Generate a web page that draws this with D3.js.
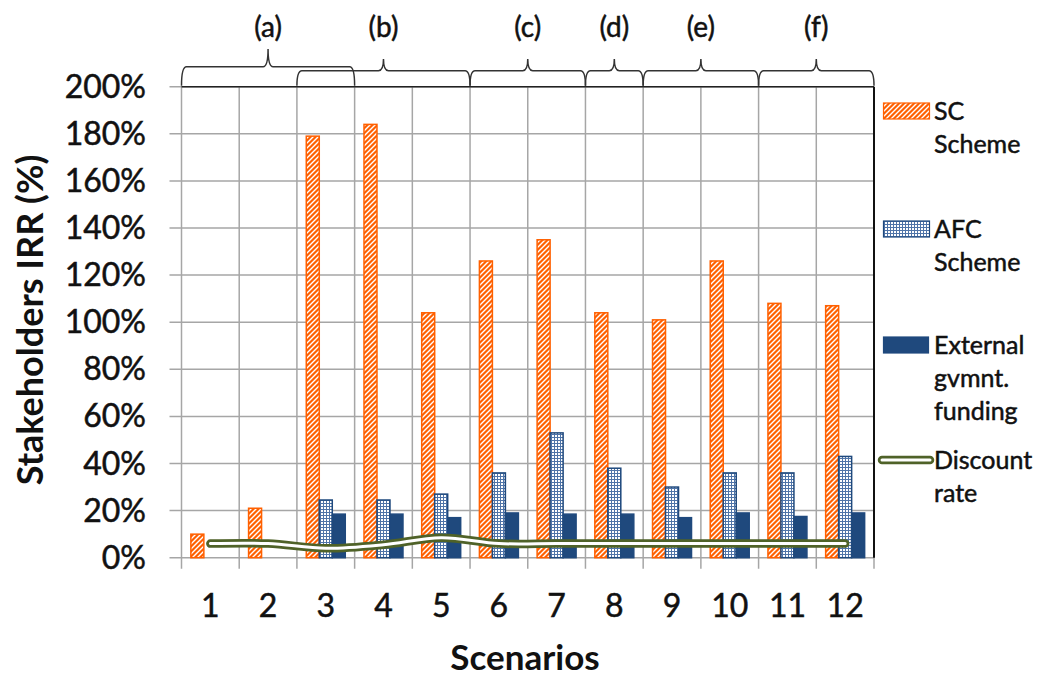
<!DOCTYPE html>
<html>
<head>
<meta charset="utf-8">
<script src="https://cdn.jsdelivr.net/npm/d3@7"></script>
<style>
  body { margin: 0; background: #fff; }
  svg { display: block; font-family: Lato, "Open Sans", sans-serif; }
  .lbl { fill: #111; stroke: #111; stroke-width: 0.5px; }
</style>
</head>
<body>
<svg id="chart" width="1042" height="679"></svg>
<script>
// Scenario data (IRR as fractions)
const scenarios = ['1', '2', '3', '4', '5', '6', '7', '8', '9', '10', '11', '12'];
const scScheme = [0.10, 0.21, 1.79, 1.84, 1.04, 1.26, 1.35, 1.04, 1.01, 1.26, 1.08, 1.07];
const afcScheme = [0, 0, 0.245, 0.245, 0.27, 0.36, 0.53, 0.38, 0.30, 0.36, 0.36, 0.43];
const extFunding = [0, 0, 0.185, 0.185, 0.17, 0.19, 0.185, 0.185, 0.17, 0.19, 0.175, 0.19];
const discountRate = [0.06, 0.06, 0.04, 0.055, 0.085, 0.06, 0.06, 0.06, 0.06, 0.06, 0.06, 0.06];
const yTicks = [0, 0.2, 0.4, 0.6, 0.8, 1.0, 1.2, 1.4, 1.6, 1.8, 2.0];

// Top brace groups (by scenario)
const braceLabels = ['(a)', '(b)', '(c)', '(d)', '(e)', '(f)'];
const braceStart = ['1', '3', '6', '8', '9', '11'];
const braceEnd = ['3', '5', '7', '8', '10', '12'];

const seriesNames = ['SC', 'AFC', 'EXT'];
const seriesValues = { SC: scScheme, AFC: afcScheme, EXT: extFunding };

const svg = d3.select('#chart');
const plotLeft = 181.5, plotRight = 874, plotTop = 86.7, plotBottom = 557.7;

const xScale = d3.scaleBand().domain(scenarios).range([plotLeft, plotRight]).padding(0);
const xInner = d3.scaleBand().domain(seriesNames).range([0, xScale.bandwidth()])
    .paddingInner(0).paddingOuter(0.72);
const yScale = d3.scaleLinear().domain([0, 2]).range([plotBottom, plotTop]);

// Patterns
const defs = svg.append('defs');
const hatch = defs.append('pattern')
    .attr('id', 'hatch')
    .attr('patternUnits', 'userSpaceOnUse')
    .attr('width', 5).attr('height', 5);
hatch.append('rect').attr('width', 5).attr('height', 5).attr('fill', '#ff6000');
hatch.append('path')
    .attr('d', 'M-1,1 l2,-2 M0,5 l5,-5 M4,6 l2,-2')
    .attr('stroke', '#fff').attr('stroke-width', 1.4);

const dots = defs.append('pattern')
    .attr('id', 'dots')
    .attr('patternUnits', 'userSpaceOnUse')
    .attr('width', 3).attr('height', 3);
dots.append('rect').attr('width', 3).attr('height', 3).attr('fill', '#4f74a8');
dots.append('rect').attr('width', 2).attr('height', 2).attr('fill', '#fff');

const fills = { SC: 'url(#hatch)', AFC: 'url(#dots)', EXT: '#1f497d' };
const strokes = { SC: '#ff6000', AFC: '#1f497d', EXT: '#1f497d' };

// Gridlines
const grid = svg.append('g').attr('stroke', '#a6a6a6').attr('stroke-width', 1.5);
grid.selectAll('line.h')
    .data(yTicks)
    .enter().append('line')
    .attr('x1', plotLeft - 12).attr('x2', plotRight)
    .attr('y1', d => yScale(d)).attr('y2', d => yScale(d));

const bounds = scenarios.map(s => xScale(s)).concat([plotRight]);
grid.selectAll('line.v')
    .data(bounds)
    .enter().append('line')
    .attr('x1', d => d).attr('x2', d => d)
    .attr('y1', plotTop).attr('y2', plotBottom + 11);

// Top and right frame
svg.append('line').attr('x1', plotLeft).attr('x2', plotRight).attr('y1', plotTop).attr('y2', plotTop)
    .attr('stroke', '#222').attr('stroke-width', 1.5);
svg.append('line').attr('x1', plotRight).attr('x2', plotRight).attr('y1', plotTop).attr('y2', plotBottom)
    .attr('stroke', '#111').attr('stroke-width', 2);

// Bars
const barData = [];
scenarios.forEach((s, i) => {
    seriesNames.forEach(k => {
        if (seriesValues[k][i] > 0) barData.push({ scenario: s, key: k, value: seriesValues[k][i] });
    });
});

svg.append('g')
    .selectAll('rect')
    .data(barData)
    .enter().append('rect')
    .attr('x', d => xScale(d.scenario) + xInner(d.key))
    .attr('y', d => yScale(d.value))
    .attr('width', xInner.bandwidth())
    .attr('height', d => plotBottom - yScale(d.value))
    .attr('fill', d => fills[d.key])
    .attr('stroke', d => strokes[d.key])
    .attr('stroke-width', 1.5);

// Discount rate line (double line)
const line = d3.line()
    .x((d, i) => xScale(scenarios[i]) + xScale.bandwidth() / 2)
    .y(d => yScale(d))
    .curve(d3.curveCatmullRom.alpha(0.5));

svg.append('path')
    .attr('d', line(discountRate))
    .attr('fill', 'none').attr('stroke', '#4f6228')
    .attr('stroke-width', 8.5).attr('stroke-linecap', 'round').attr('stroke-linejoin', 'round');
svg.append('path')
    .attr('d', line(discountRate))
    .attr('fill', 'none').attr('stroke', '#fff')
    .attr('stroke-width', 3).attr('stroke-linecap', 'round');

// Axis tick labels
svg.append('g')
    .selectAll('text')
    .data(yTicks)
    .enter().append('text')
    .attr('class', 'lbl')
    .attr('x', 146)
    .attr('y', d => yScale(d) + 11)
    .attr('text-anchor', 'end')
    .style('font-size', '32px')
    .text(d => d3.format('.0%')(d));

svg.append('g')
    .selectAll('text')
    .data(scenarios)
    .enter().append('text')
    .attr('class', 'lbl')
    .attr('x', d => xScale(d) + xScale.bandwidth() / 2)
    .attr('y', 617)
    .attr('text-anchor', 'middle')
    .style('font-size', '32px')
    .text(d => d);

// Axis titles
svg.append('text')
    .attr('x', 525).attr('y', 670)
    .attr('text-anchor', 'middle')
    .style('font-size', '35px').style('font-weight', 'bold')
    .style('fill', '#111')
    .text('Scenarios');

svg.append('text')
    .attr('text-anchor', 'middle')
    .attr('transform', 'translate(43,320)rotate(-90)')
    .style('font-size', '36px').style('font-weight', 'bold')
    .style('fill', '#111')
    .text('Stakeholders IRR (%)');

// Braces
const braces = svg.append('g').attr('fill', 'none').attr('stroke', '#333').attr('stroke-width', 1.5);
braceLabels.forEach((label, i) => {
    const x0 = xScale(braceStart[i]);
    const x1 = xScale(braceEnd[i]) + xScale.bandwidth();
    const xm = (x0 + x1) / 2;
    const raised = i < braceLabels.length - 1 && +braceEnd[i] >= +braceStart[i + 1];
    const yb = raised ? 66.7 : 70.7;
    const tip = raised ? 49 : 59;
    const r = 5;
    const p = d3.path();
    p.moveTo(x0, plotTop - 1);
    p.quadraticCurveTo(x0, yb, x0 + r, yb);
    p.lineTo(xm - r, yb);
    p.quadraticCurveTo(xm, yb, xm, tip);
    p.quadraticCurveTo(xm, yb, xm + r, yb);
    p.lineTo(x1 - r, yb);
    p.quadraticCurveTo(x1, yb, x1, plotTop - 1);
    braces.append('path').attr('d', p.toString());

    svg.append('text')
        .attr('class', 'lbl')
        .attr('x', xm).attr('y', 37)
        .attr('text-anchor', 'middle')
        .style('font-size', '28px')
        .text(label);
});

// Legend
const legendItems = [
    { type: 'SC', lines: ['SC', 'Scheme'], y: 111 },
    { type: 'AFC', lines: ['AFC', 'Scheme'], y: 229 },
    { type: 'EXT', lines: ['External', 'gvmnt.', 'funding'], y: 345 },
    { type: 'DISC', lines: ['Discount', 'rate'], y: 460 }
];
const legend = svg.append('g');
legendItems.forEach(item => {
    if (item.type === 'DISC') {
        legend.append('line')
            .attr('x1', 882).attr('x2', 930).attr('y1', item.y).attr('y2', item.y)
            .attr('stroke', '#4f6228').attr('stroke-width', 8.5).attr('stroke-linecap', 'round');
        legend.append('line')
            .attr('x1', 882).attr('x2', 930).attr('y1', item.y).attr('y2', item.y)
            .attr('stroke', '#fff').attr('stroke-width', 3).attr('stroke-linecap', 'round');
    } else {
        legend.append('rect')
            .attr('x', 883.5).attr('y', item.y - 8)
            .attr('width', item.type === 'EXT' ? 45 : 46).attr('height', 16)
            .attr('fill', fills[item.type])
            .attr('stroke', strokes[item.type]).attr('stroke-width', 1.2);
    }
    const t = legend.append('text')
        .attr('class', 'lbl')
        .attr('x', 934).attr('y', item.y + 9)
        .style('font-size', '25px');
    item.lines.forEach((ln, j) => {
        t.append('tspan').attr('x', 934).attr('dy', j === 0 ? 0 : 33).text(ln);
    });
});
</script>
</body>
</html>
